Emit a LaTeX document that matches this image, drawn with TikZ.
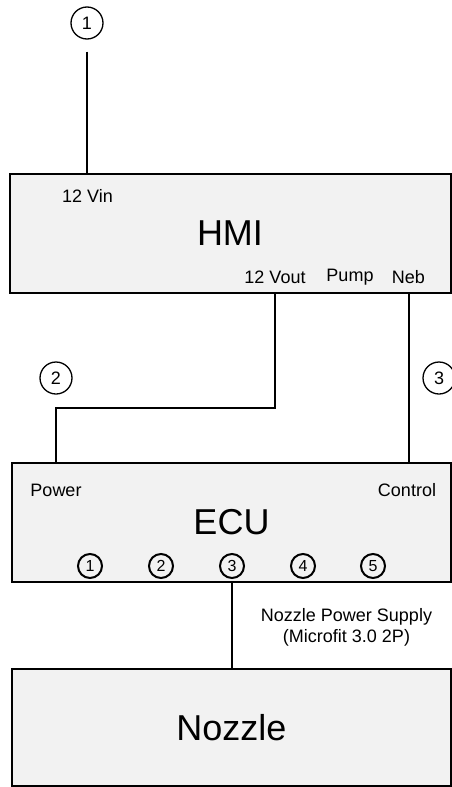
\documentclass[tikz,border=0pt]{standalone}
\usepackage{fontspec}
\setmainfont{Liberation Sans}
\usepackage{xcolor}
\usetikzlibrary{positioning,calc}
\definecolor{ink}{HTML}{000000}
\definecolor{boxfill}{HTML}{F2F2F2}
\tikzset{
  unitbox/.style={
    draw=ink,
    line width=2pt,
    fill=boxfill,
    minimum width=441pt,
    minimum height=119pt,
    inner sep=0pt,
    font=\fontsize{36}{40}\selectfont,
    text=ink
  },
  portlabel/.style={font=\fontsize{18}{20}\selectfont, text=ink, inner sep=0pt},
  wirelabel/.style={
    circle,
    draw=ink,
    line width=1.3pt,
    minimum size=32pt,
    inner sep=0pt,
    font=\fontsize{18}{20}\selectfont
  },
  pinlabel/.style={
    circle,
    draw=ink,
    line width=2pt,
    minimum size=24pt,
    inner sep=0pt,
    font=\fontsize{16}{18}\selectfont
  },
  wire/.style={draw=ink, line width=2pt},
  note/.style={font=\fontsize{18}{21}\selectfont, text=ink, align=center}
}
\begin{document}
\begin{tikzpicture}[x=1pt, y=-1pt]
  \useasboundingbox (0,0) rectangle (452,787);

  % units
  \node[unitbox] (hmi) at (230,233.5) {HMI};
  \node[unitbox, minimum width=439pt] (ecu) at (231.5,522.5) {ECU};
  \node[unitbox, minimum width=439pt, minimum height=117pt] (nozzle) at (231.5,727.5) {Nozzle};

  % ports
  \node[portlabel] (vin) at (87.5,196) {12 Vin};
  \node[portlabel] (vout) at (275,277) {12 Vout};
  \node[portlabel] (pump) at (350,277) {Pump};
  \node[portlabel] (neb) at (408.5,277) {Neb};
  \node[portlabel] (power) at (56,490) {Power};
  \node[portlabel] (control) at (407,490) {Control};
  \foreach \i/\x in {1/90,2/161,3/232,4/303,5/373}
    \node[pinlabel] (p\i) at (\x,566) {\i};

  % wire labels
  \node[wirelabel] (lbl1) at (87,23) {1};
  \node[wirelabel] (lbl2) at (56,378) {2};
  \node[wirelabel] (lbl3) at (439,378) {3};

  % wires
  \coordinate (bend2) at (56,408);
  \draw[wire] ([yshift=-12pt]lbl1.south) -- (lbl1.south |- hmi.north);
  \draw[wire] (vout |- hmi.south) |- (bend2) -- (power |- ecu.north);
  \draw[wire] (neb |- hmi.south) -- (neb |- ecu.north);
  \draw[wire] (p3 |- ecu.south) -- (p3 |- nozzle.north);

  \node[note] (supply) at (346.5,627.5) {Nozzle Power Supply\\(Microfit 3.0 2P)};
\end{tikzpicture}
\end{document}
